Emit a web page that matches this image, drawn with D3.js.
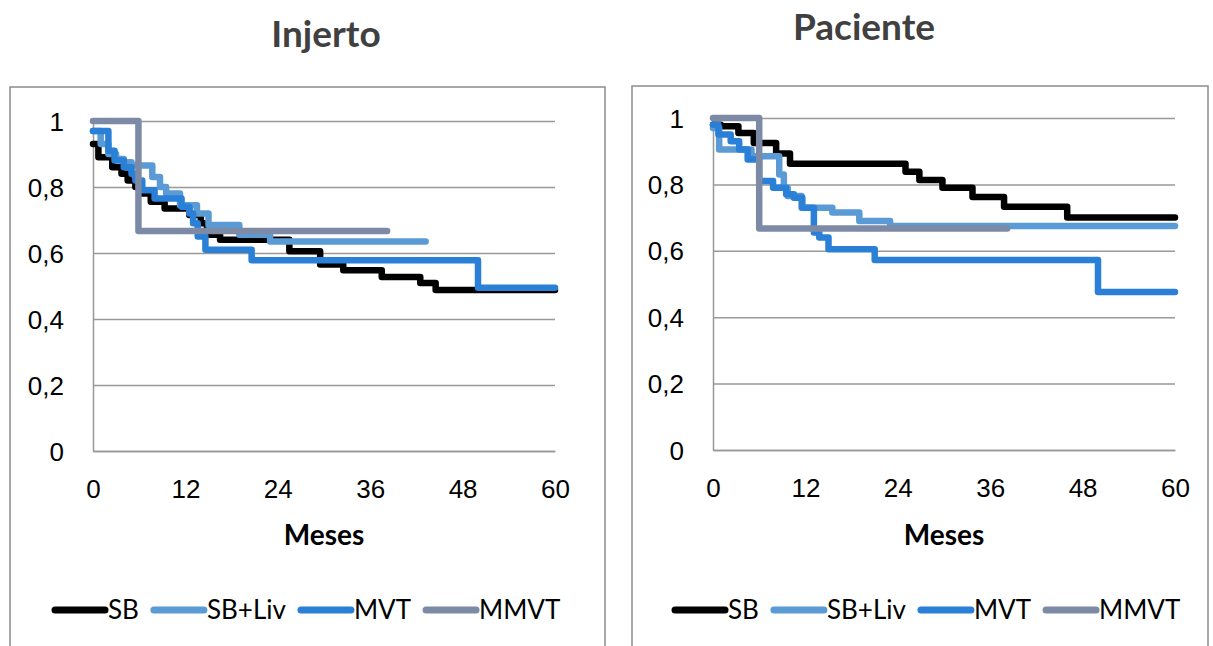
<!DOCTYPE html>
<html>
<head>
<meta charset="utf-8">
<script src="https://cdn.jsdelivr.net/npm/d3@7"></script>
<style>
  body { margin: 0; background: #fff; }
  svg { font-family: Lato, "Open Sans", sans-serif; }
</style>
</head>
<body>
<svg id="chart" width="1213" height="646"></svg>
<script>
const seriesNames = ["SB", "SB+Liv", "MVT", "MMVT"];
const xTicks = [0, 12, 24, 36, 48, 60];
const yTicks = [0, 0.2, 0.4, 0.6, 0.8, 1];

// Injerto: [mes, supervivencia]
const injertoSB = [[0,0.93],[0.7,0.89],[2.5,0.86],[3.7,0.84],[4.5,0.82],[5.5,0.80],[6.2,0.78],[7.5,0.755],[9.3,0.735],[12.5,0.715],[14,0.69],[14.8,0.655],[16.5,0.64],[25.5,0.605],[29.5,0.565],[32.5,0.548],[37.5,0.527],[42.5,0.509],[44.5,0.488],[60,0.488]];
const injertoSBLiv = [[0,0.97],[1,0.93],[2,0.90],[3,0.885],[4,0.875],[5,0.865],[7.7,0.83],[8.7,0.80],[9.5,0.78],[11.3,0.745],[13.5,0.72],[15,0.685],[19,0.655],[23,0.635],[43.2,0.635]];
const injertoMVT = [[0,0.97],[2,0.91],[2.8,0.88],[4,0.86],[5,0.84],[5.5,0.82],[6.4,0.79],[8,0.765],[11.5,0.74],[12.5,0.72],[13,0.69],[13.6,0.65],[14.6,0.61],[20.6,0.578],[50,0.495],[60,0.495]];
const injertoMMVT = [[0,1],[5.9,0.667],[38.2,0.667]];

// Paciente
const pacienteSB = [[0,0.98],[1,0.975],[3.3,0.955],[5.3,0.925],[8.2,0.893],[10,0.862],[25,0.838],[26.8,0.813],[29.8,0.79],[33.7,0.762],[37.8,0.733],[46,0.70],[60,0.70]];
const pacienteSBLiv = [[0,0.97],[0.8,0.905],[5,0.885],[8.6,0.83],[9.2,0.79],[9.7,0.765],[11.5,0.73],[15.5,0.715],[19,0.69],[23,0.675],[60,0.675]];
const pacienteMVT = [[0,0.98],[0.7,0.95],[2.3,0.93],[3.4,0.905],[4.5,0.875],[6,0.81],[7.8,0.79],[9.5,0.77],[10.5,0.76],[11.6,0.73],[13.1,0.655],[13.8,0.64],[15,0.605],[21,0.572],[50,0.476],[60,0.476]];
const pacienteMMVT = [[0,1],[6,0.667],[38.2,0.667]];

const colors = ["#000000", "#5b9bd5", "#2a7fd6", "#7d8aa5"];

const svg = d3.select("#chart");
const fmt = d => String(+d.toFixed(1)).replace(".", ",");

function drawChart(cfg) {
  const g = svg.append("g");

  g.append("rect")
    .attr("x", cfg.frame[0]).attr("y", cfg.frame[1])
    .attr("width", cfg.frame[2]).attr("height", 700)
    .attr("fill", "none").attr("stroke", "#8c8c8c").attr("stroke-width", 1.5);

  g.append("text")
    .attr("x", cfg.titleX).attr("y", cfg.titleY)
    .attr("text-anchor", "middle")
    .style("font-size", "37px").style("font-weight", "bold")
    .attr("fill", "#404040")
    .text(cfg.title);

  const x = d3.scaleLinear().domain([0, 60]).range(cfg.xr);
  const y = d3.scaleLinear().domain([0, 1]).range(cfg.yr);
  const w = cfg.xr[1] - cfg.xr[0];

  const yAxis = d3.axisLeft(y).tickValues(yTicks).tickFormat(fmt)
    .tickSizeInner(-w).tickSizeOuter(0).tickPadding(29);
  const yg = g.append("g").attr("transform", `translate(${cfg.xr[0]},0)`).call(yAxis);
  yg.selectAll("line").attr("stroke", "#999").attr("stroke-width", 1.5);
  yg.select(".domain").attr("stroke", "#999").attr("stroke-width", 1.5);
  yg.selectAll("text").attr("fill", "#000").style("font-size", "26px").attr("dy", "0.35em");

  const xAxis = d3.axisBottom(x).tickValues(xTicks).tickSize(0).tickPadding(29);
  const xg = g.append("g").attr("transform", `translate(0,${cfg.yr[0]})`).call(xAxis);
  xg.select(".domain").attr("stroke", "#999").attr("stroke-width", 1.5);
  xg.selectAll("text").attr("fill", "#000").style("font-size", "26px");

  g.append("text")
    .attr("x", (cfg.xr[0] + cfg.xr[1]) / 2).attr("y", 545)
    .attr("text-anchor", "middle")
    .style("font-size", "28px").style("font-weight", "bold")
    .text("Meses");

  const line = d3.line()
    .x(d => x(d[0])).y(d => y(d[1]))
    .curve(d3.curveStepAfter);

  g.selectAll("path.serie")
    .data(cfg.series)
    .enter()
    .append("path")
      .attr("class", "serie")
      .attr("d", line)
      .attr("fill", "none")
      .attr("stroke", (d, i) => colors[i])
      .attr("stroke-width", 6.5)
      .attr("stroke-linejoin", "round")
      .attr("stroke-linecap", "round");

  // leyenda
  let lx = cfg.legendX;
  const ly = 610;
  seriesNames.forEach((name, i) => {
    g.append("line")
      .attr("x1", lx + 3).attr("x2", lx + 53)
      .attr("y1", ly).attr("y2", ly)
      .attr("stroke", colors[i]).attr("stroke-width", 7)
      .attr("stroke-linecap", "round");
    const t = g.append("text")
      .attr("x", lx + 56).attr("y", ly).attr("dy", "0.36em")
      .style("font-size", "26px")
      .text(name);
    lx += 56 + t.node().getComputedTextLength() + 12;
  });
}

drawChart({
  title: "Injerto", titleX: 326, titleY: 47,
  frame: [10, 87, 595],
  xr: [93, 555], yr: [451, 121],
  legendX: 52,
  series: [injertoSB, injertoSBLiv, injertoMVT, injertoMMVT]
});

drawChart({
  title: "Paciente", titleX: 864, titleY: 40,
  frame: [632, 86, 576],
  xr: [713, 1175], yr: [450, 118],
  legendX: 672,
  series: [pacienteSB, pacienteSBLiv, pacienteMVT, pacienteMMVT]
});
</script>
</body>
</html>
